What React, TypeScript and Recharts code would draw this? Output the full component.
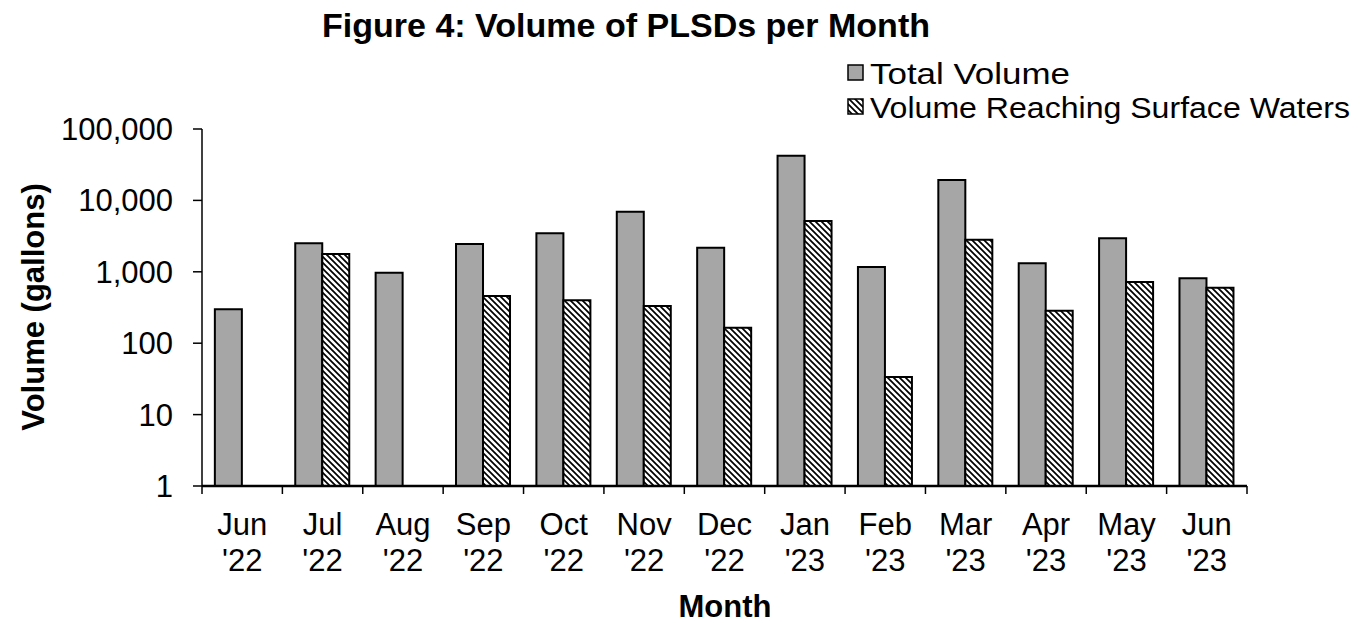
import { BarChart, Bar, XAxis, YAxis } from 'recharts'

const months = [
  "Jun '22", "Jul '22", "Aug '22", "Sep '22", "Oct '22", "Nov '22", "Dec '22",
  "Jan '23", "Feb '23", "Mar '23", "Apr '23", "May '23", "Jun '23",
]
const totalVolume = [298, 2506, 972, 2450, 3480, 6950, 2175, 42300, 1167, 19300, 1315, 2945, 811]
const surfaceVolume = [null, 1775, null, 458, 400, 331, 165, 5140, 33.6, 2800, 285, 720, 599]
const yTicks = [1, 10, 100, 1000, 10000, 100000]

const data = months.map((month, i) => ({
  month,
  total: totalVolume[i],
  surface: surfaceVolume[i],
}))

const FONT = '"Liberation Sans", Arial, sans-serif'
const PLOT_LEFT = 202
const PLOT_RIGHT = 1247
const PLOT_BOTTOM = 486
const BAND = (PLOT_RIGHT - PLOT_LEFT) / months.length

function MonthTick(props: any) {
  const { x, payload, index } = props
  const [m, yr] = String(payload.value).split(' ')
  const left = x - BAND / 2
  const right = x + BAND / 2
  return (
    <g>
      <line x1={left} y1={PLOT_BOTTOM} x2={left} y2={PLOT_BOTTOM + 8} stroke="#000" strokeWidth={1.5} />
      {index === months.length - 1 && (
        <line x1={right} y1={PLOT_BOTTOM} x2={right} y2={PLOT_BOTTOM + 8} stroke="#000" strokeWidth={1.5} />
      )}
      <text x={x} y={535} textAnchor="middle" fontSize={31} fontFamily={FONT} fill="#000">{m}</text>
      <text x={x} y={571} textAnchor="middle" fontSize={31} fontFamily={FONT} fill="#000">{yr}</text>
    </g>
  )
}

export default function App() {
  return (
    <div style={{ position: 'absolute', left: 0, top: 0, width: 1360, height: 623, background: '#fff' }}>
      <BarChart
        width={1360}
        height={623}
        data={data}
        margin={{ top: 129, right: 1360 - PLOT_RIGHT, bottom: 37, left: PLOT_LEFT - 120 }}
        barCategoryGap="16%"
        barGap={0}
      >
        <defs>
          <pattern id="hatch" patternUnits="userSpaceOnUse" width={6} height={6}>
            <rect width={6} height={6} fill="#fff" />
            <path d="M-1,-1 L7,7 M-1,5 L1,7 M5,-1 L7,1" stroke="#000" strokeWidth={1.7} />
          </pattern>
        </defs>
        <XAxis
          dataKey="month"
          height={100}
          interval={0}
          axisLine={{ stroke: '#000', strokeWidth: 2.5 }}
          tickLine={false}
          tick={<MonthTick />}
        />
        <YAxis
          width={120}
          scale="log"
          domain={[1, 100000]}
          allowDataOverflow
          ticks={yTicks}
          tickFormatter={(v: number) => v.toLocaleString('en-US')}
          axisLine={{ stroke: '#000', strokeWidth: 1.5 }}
          tickLine={{ stroke: '#000', strokeWidth: 1.5 }}
          tickSize={9}
          tickMargin={20}
          tick={{ fontSize: 31, fill: '#000', fontFamily: FONT }}
        />
        <Bar dataKey="total" fill="#a6a6a6" stroke="#000" strokeWidth={2} isAnimationActive={false} />
        <Bar dataKey="surface" fill="url(#hatch)" stroke="#000" strokeWidth={2} isAnimationActive={false} />
      </BarChart>
      <svg
        width={1360}
        height={623}
        style={{ position: 'absolute', left: 0, top: 0, pointerEvents: 'none' }}
        fontFamily={FONT}
      >
        <text x={322} y={37} fontSize={33} fontWeight="bold" textLength={608} lengthAdjust="spacingAndGlyphs">
          Figure 4: Volume of PLSDs per Month
        </text>
        <rect x={848} y={65} width={15} height={15} fill="#a6a6a6" stroke="#000" strokeWidth={1.5} />
        <text x={870} y={84} fontSize={30} textLength={200} lengthAdjust="spacingAndGlyphs">Total Volume</text>
        <rect x={848} y={99} width={15} height={15} fill="url(#hatch)" stroke="#000" strokeWidth={1.5} />
        <text x={870} y={118} fontSize={30} textLength={480} lengthAdjust="spacingAndGlyphs">
          Volume Reaching Surface Waters
        </text>
        <text
          x={44}
          y={307}
          fontSize={31}
          fontWeight="bold"
          textAnchor="middle"
          transform="rotate(-90 44 307)"
        >
          Volume (gallons)
        </text>
        <text x={725} y={617} fontSize={31} fontWeight="bold" textAnchor="middle">Month</text>
      </svg>
    </div>
  )
}
